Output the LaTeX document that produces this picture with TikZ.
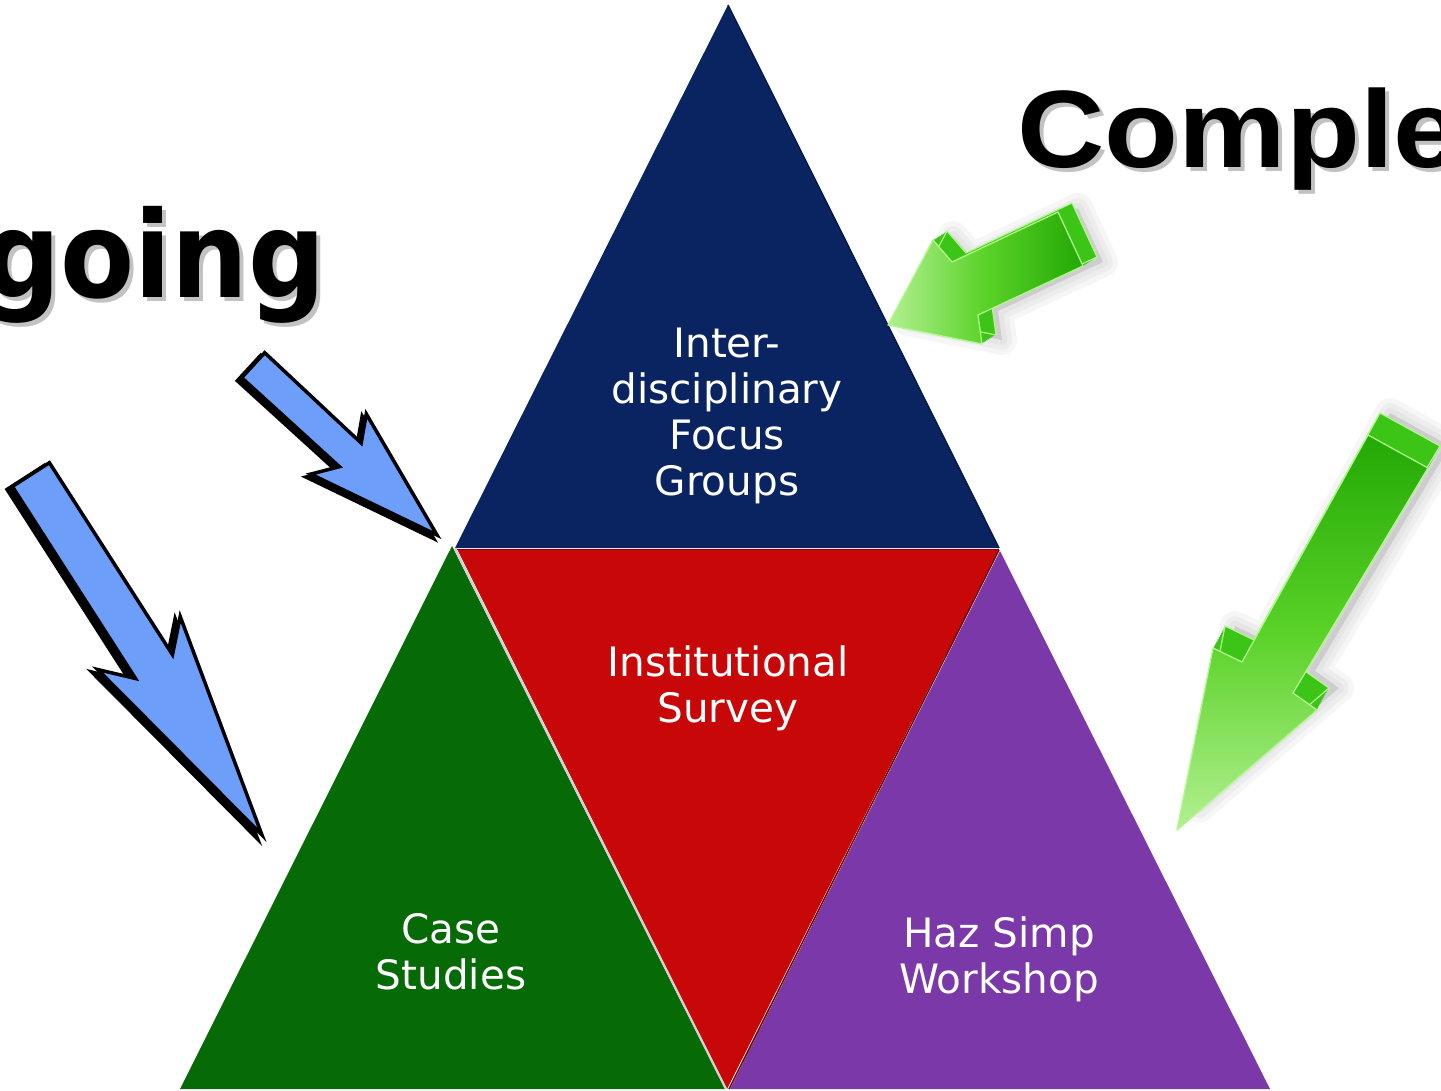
\documentclass[tikz,border=0pt]{standalone}
\usepackage{fontspec}
\setmainfont{DejaVu Sans}
\newfontfamily\goingfont{DejaVu Sans}
\newfontfamily\compfont{Liberation Sans}
\definecolor{navy}{RGB}{10,36,98}
\definecolor{tred}{RGB}{200,8,8}
\definecolor{tgreen}{RGB}{6,106,6}
\definecolor{tpurple}{RGB}{122,56,168}
\definecolor{ablue}{RGB}{108,158,250}
\definecolor{glight}{RGB}{178,240,145}
\definecolor{gmid}{RGB}{90,210,40}
\definecolor{gdark}{RGB}{35,168,5}
\definecolor{gside}{RGB}{60,196,22}
\definecolor{ghl}{RGB}{175,248,140}
% shapes of the four arrows, option argument
\newcommand\BlueBig[1]{\path[#1] (12.4,486.5) -- (49.4,462.7) -- (172.5,654.7) -- (180.2,616.5) -- (262,835) -- (97.6,669.5) -- (135.5,678.5) -- cycle;}
\newcommand\BlueSmall[1]{\path[#1] (241.7,377.7) -- (264.7,352.7) -- (361.2,443.1) -- (366.3,413.9) -- (437,535) -- (310.7,474.1) -- (339.4,466.7) -- cycle;}
\newcommand\GreenUp[1]{\path[#1] (888,325) -- (933,240) -- (952,262) -- (1058,212) -- (1083,266) -- (978,315) -- (982,344) -- cycle;}
\newcommand\GreenRight[1]{\path[#1] (1177,830) -- (1213,648) -- (1242,662) -- (1368,435) -- (1428,468) -- (1293,693) -- (1317,710) -- cycle;}
\begin{document}
\begin{tikzpicture}[x=1pt,y=-1pt,
  lbl/.style={text=white, align=center, inner sep=0pt, font=\fontsize{40.5}{46}\selectfont},
  bigword/.style={inner sep=0pt},
  blueshadow/.style={fill=black, draw=black, line width=4, line join=miter},
  bluebody/.style={fill=ablue, draw=black, line width=3.5, line join=miter},
  gblur/.style={fill=black, draw=black, opacity=0.035, line join=round},
  gfront/.style={draw=ghl, line width=1.3, line join=round}]
\useasboundingbox (0,0) rectangle (1441,1091);
\clip (0,0) rectangle (1441,1091);

% pyramid
\fill[navy] (728,5) -- (455,548) -- (999,548) -- cycle;
\fill[tgreen] (452,546) -- (180,1089) -- (725,1089) -- cycle;
\fill[tred] (457,549) -- (999,549) -- (727,1089) -- cycle;
\fill[tpurple] (1000,551) -- (730,1089) -- (1270,1089) -- cycle;
\draw[navy!70!black, line width=1.5] (728,5) -- (999,548);
\draw[tred!65!black, line width=1] (457,549) -- (999,549);
\draw[gray!35, line width=2.2] (455,549) -- (726,1089);
\draw[tred!55!black, line width=1.5] (999,550) -- (729,1089);

% labels
\node[lbl] (focus) at (727,416) {Inter-\\disciplinary\\Focus\\Groups};
\node[lbl] (survey) at (728,688) {Institutional\\Survey};
\node[lbl] (case) at (451,951.5) {Case\\Studies};
\node[lbl] (haz) at (999,959.5) {Haz Simp\\Workshop};

% big words with shadows
\node[bigword, anchor=base east, xscale=0.9, text=black!40, opacity=0.6, font=\goingfont\bfseries\fontsize{120}{120}\selectfont] (goingshadow) at (330,302) {going};
\node[bigword, anchor=base east, xscale=0.9, font=\goingfont\bfseries\fontsize{120}{120}\selectfont] (going) at (326,298) {going};
\node[bigword, anchor=base west, xscale=1.1, text=black!40, opacity=0.6, font=\compfont\bfseries\fontsize{110}{110}\selectfont] (compshadow) at (1021,172) {Comple};
\node[bigword, anchor=base west, xscale=1.1, font=\compfont\bfseries\fontsize{110}{110}\selectfont] (comp) at (1017,168) {Comple};

% blue arrows
\BlueBig{blueshadow, shift={(-5,3)}}
\BlueBig{bluebody}
\BlueSmall{blueshadow, shift={(-4,3)}}
\BlueSmall{bluebody}

% green arrow near apex
\foreach \w in {30,20,10} {\GreenUp{gblur, line width=\w, shift={(20,-4)}}}
\foreach \k in {0,1,...,10} {\GreenUp{fill=gside, shift={(\k*1.4,-\k*0.9)}}}
\GreenUp{draw=ghl, line width=1.2, shift={(14,-9)}}
\GreenUp{gfront, left color=glight, right color=gdark, middle color=gmid}

% green arrow on the right
\foreach \w in {30,20,10} {\GreenRight{gblur, line width=\w, shift={(22,-22)}}}
\foreach \k in {0,1,...,10} {\GreenRight{fill=gside, shift={(\k*1.2,-\k*2.2)}}}
\GreenRight{draw=ghl, line width=1.2, shift={(12,-22)}}
\GreenRight{gfront, bottom color=glight, top color=gdark, middle color=gmid}
\end{tikzpicture}
\end{document}
